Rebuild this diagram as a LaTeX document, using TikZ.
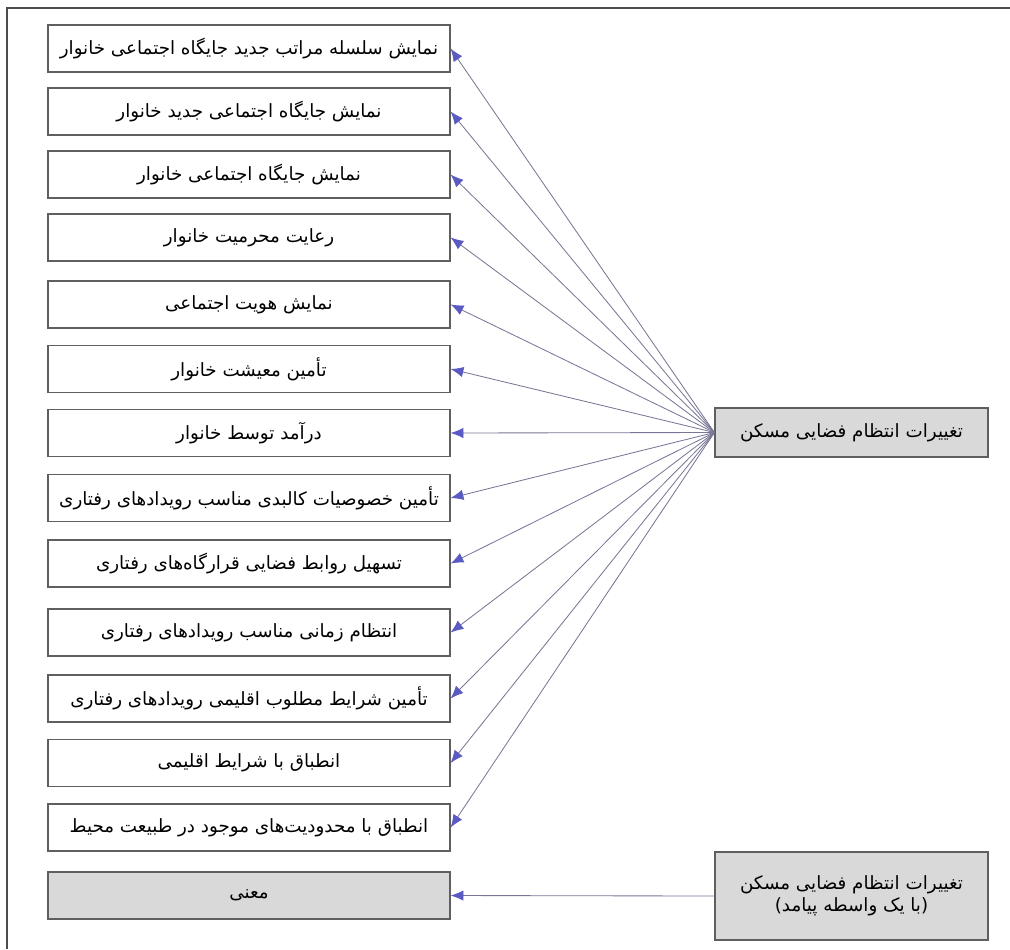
\documentclass[tikz,border=0pt]{standalone}
\usepackage{fontspec}
\usepackage{tikz}
\usetikzlibrary{arrows.meta, positioning}
\usepackage{xcolor}
\TeXXeTstate=1
\newfontfamily\farsi[Script=Arabic]{DejaVu Sans}
\definecolor{boxline}{RGB}{95,95,95}
\definecolor{boxgray}{RGB}{217,217,217}
\definecolor{linkline}{RGB}{120,120,150}
\definecolor{tipblue}{RGB}{90,90,195}
\newcommand{\fatext}[1]{\beginR #1\endR}

\begin{document}
\begin{tikzpicture}[x=0.025cm, y=-0.025cm, every node/.style={font=\farsi\fontsize{13}{16}\selectfont},
  item/.style={draw=boxline, line width=0.8pt, fill=white, minimum width=10.05cm, minimum height=1.175cm, inner sep=0pt},
  grayitem/.style={item, fill=boxgray},
  cause/.style={draw=boxline, line width=0.8pt, fill=boxgray, minimum width=6.825cm, inner sep=0pt, align=center},
  link/.style={draw=linkline, line width=0.6pt, -{Latex[length=3.2mm, width=2.6mm, color=tipblue]}}]
  \useasboundingbox (0,0) rectangle (1010,949);
  \draw[line width=1.2pt, black!70] (1010,8) -- (7,8) -- (7,949);

  \node[item] (b1) at (249,48.5) {\fatext{نمایش سلسله مراتب جدید جایگاه اجتماعی خانوار}};
  \node[item] (b2) at (249,111.5) {\fatext{نمایش جایگاه اجتماعی جدید خانوار}};
  \node[item] (b3) at (249,174.5) {\fatext{نمایش جایگاه اجتماعی خانوار}};
  \node[item] (b4) at (249,237.5) {\fatext{رعایت محرمیت خانوار}};
  \node[item] (b5) at (249,304.5) {\fatext{نمایش هویت اجتماعی}};
  \node[item] (b6) at (249,369) {\fatext{تأمین معیشت خانوار}};
  \node[item] (b7) at (249,433) {\fatext{درآمد توسط خانوار}};
  \node[item] (b8) at (249,498) {\fatext{تأمین خصوصیات کالبدی مناسب رویدادهای رفتاری}};
  \node[item] (b9) at (249,563.5) {\fatext{تسهیل روابط فضایی قرارگاه‌های رفتاری}};
  \node[item] (b10) at (249,632.5) {\fatext{انتظام زمانی مناسب رویدادهای رفتاری}};
  \node[item] (b11) at (249,698.5) {\fatext{تأمین شرایط مطلوب اقلیمی رویدادهای رفتاری}};
  \node[item] (b12) at (249,763) {\fatext{انطباق با شرایط اقلیمی}};
  \node[item] (b13) at (249,827.5) {\fatext{انطباق با محدودیت‌های موجود در طبیعت محیط}};
  \node[grayitem] (b14) at (249,895.5) {\fatext{معنی}};

  \node[cause, minimum height=1.225cm] (hub) at (851.5,432.5) {\fatext{تغییرات انتظام فضایی مسکن}};
  \node[cause, minimum height=2.2cm] (med) at (851.5,896) {\fatext{تغییرات انتظام فضایی مسکن}\\ \fatext{(با یک واسطه پیامد)}};

  \draw[link] (hub.west) -- (b1.east);
  \draw[link] (hub.west) -- (b2.east);
  \draw[link] (hub.west) -- (b3.east);
  \draw[link] (hub.west) -- (b4.east);
  \draw[link] (hub.west) -- (b5.east);
  \draw[link] (hub.west) -- (b6.east);
  \draw[link] (hub.west) -- (b7.east);
  \draw[link] (hub.west) -- (b8.east);
  \draw[link] (hub.west) -- (b9.east);
  \draw[link] (hub.west) -- (b10.east);
  \draw[link] (hub.west) -- (b11.east);
  \draw[link] (hub.west) -- (b12.east);
  \draw[link] (hub.west) -- (b13.east);
  \draw[link] (med.west) -- (b14.east);
\end{tikzpicture}
\end{document}
